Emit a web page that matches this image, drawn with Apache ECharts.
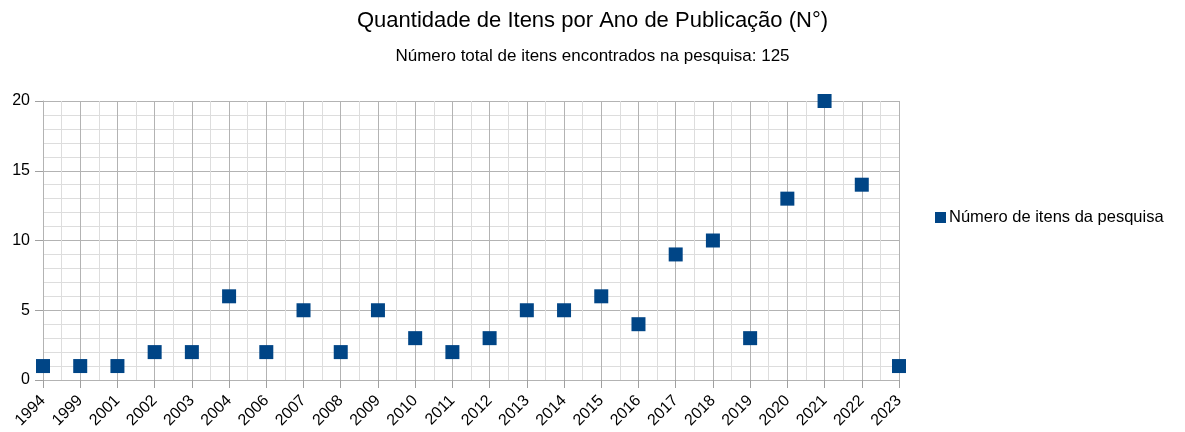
<!DOCTYPE html>
<html><head><meta charset="utf-8">
<script src="https://cdn.jsdelivr.net/npm/echarts@6/dist/echarts.min.js"></script>
<style>html,body{margin:0;padding:0;background:#fff}#c{width:1185px;height:432px}</style>
</head><body><div id="c"></div>
<script>
const years = ['1994','1999','2001','2002','2003','2004','2006','2007','2008','2009','2010','2011','2012','2013','2014','2015','2016','2017','2018','2019','2020','2021','2022','2023'];
const itens = [1,1,1,2,2,6,2,5,2,5,3,2,3,5,5,6,4,9,10,3,13,20,14,1];
const seriesName = 'Número de itens da pesquisa';
const titleText = 'Quantidade de Itens por Ano de Publicação (N°)';
const subText = 'Número total de itens encontrados na pesquisa: 125';

const font = 'Liberation Sans';
const chart = echarts.init(document.getElementById('c'));
chart.setOption({
  animation: false,
  title: [
    {text: titleText, left: 'center', top: 5, textStyle: {fontFamily: font, fontSize: 22, fontWeight: 'normal', color: '#000'}},
    {text: subText, left: 'center', top: 43, textStyle: {fontFamily: font, fontSize: 17, fontWeight: 'normal', color: '#000'}}
  ],
  legend: {
    left: 930, top: 204, icon: 'rect', itemWidth: 11, itemHeight: 11, itemGap: 4,
    textStyle: {fontFamily: font, fontSize: 16.5, color: '#000', padding: [0,0,0,-2]},
    data: [seriesName]
  },
  grid: {left: 43, right: 286, top: 101, bottom: 52},
  xAxis: [
    {type: 'category', data: years, boundaryGap: false,
     axisLine: {show: true, lineStyle: {color: '#b3b3b3'}},
     axisTick: {show: true, inside: false, length: 8, alignWithLabel: true, lineStyle: {color: '#a0a0a0', width: 1}},
     axisLabel: {rotate: 45, fontFamily: font, fontSize: 16, color: '#000', margin: 18},
     splitLine: {show: true, lineStyle: {color: '#b3b3b3'}}, z: 3},
    {type: 'value', min: 0, max: years.length - 1, interval: 1, position: 'bottom',
     axisLine: {show: false}, axisTick: {show: false}, axisLabel: {show: false},
     splitLine: {show: false},
     minorTick: {show: false, splitNumber: 2},
     minorSplitLine: {show: true, lineStyle: {color: '#dddddd'}}, z: 1}
  ],
  yAxis: {type: 'value', min: 0, max: 20, interval: 5,
    axisLine: {show: true, lineStyle: {color: '#b3b3b3'}},
    axisTick: {show: true, inside: false, length: 8, lineStyle: {color: '#a0a0a0', width: 1}},
    axisLabel: {fontFamily: font, fontSize: 16, color: '#000', margin: 13},
    splitLine: {show: true, lineStyle: {color: '#b3b3b3'}},
    minorTick: {show: false, splitNumber: 5},
    minorSplitLine: {show: true, lineStyle: {color: '#dddddd'}}
  },
  series: [{
    name: seriesName, type: 'scatter', xAxisIndex: 0, data: itens,
    symbol: 'rect', symbolSize: 14,
    itemStyle: {color: '#004586', opacity: 1}, z: 5
  }]
});
</script></body></html>
